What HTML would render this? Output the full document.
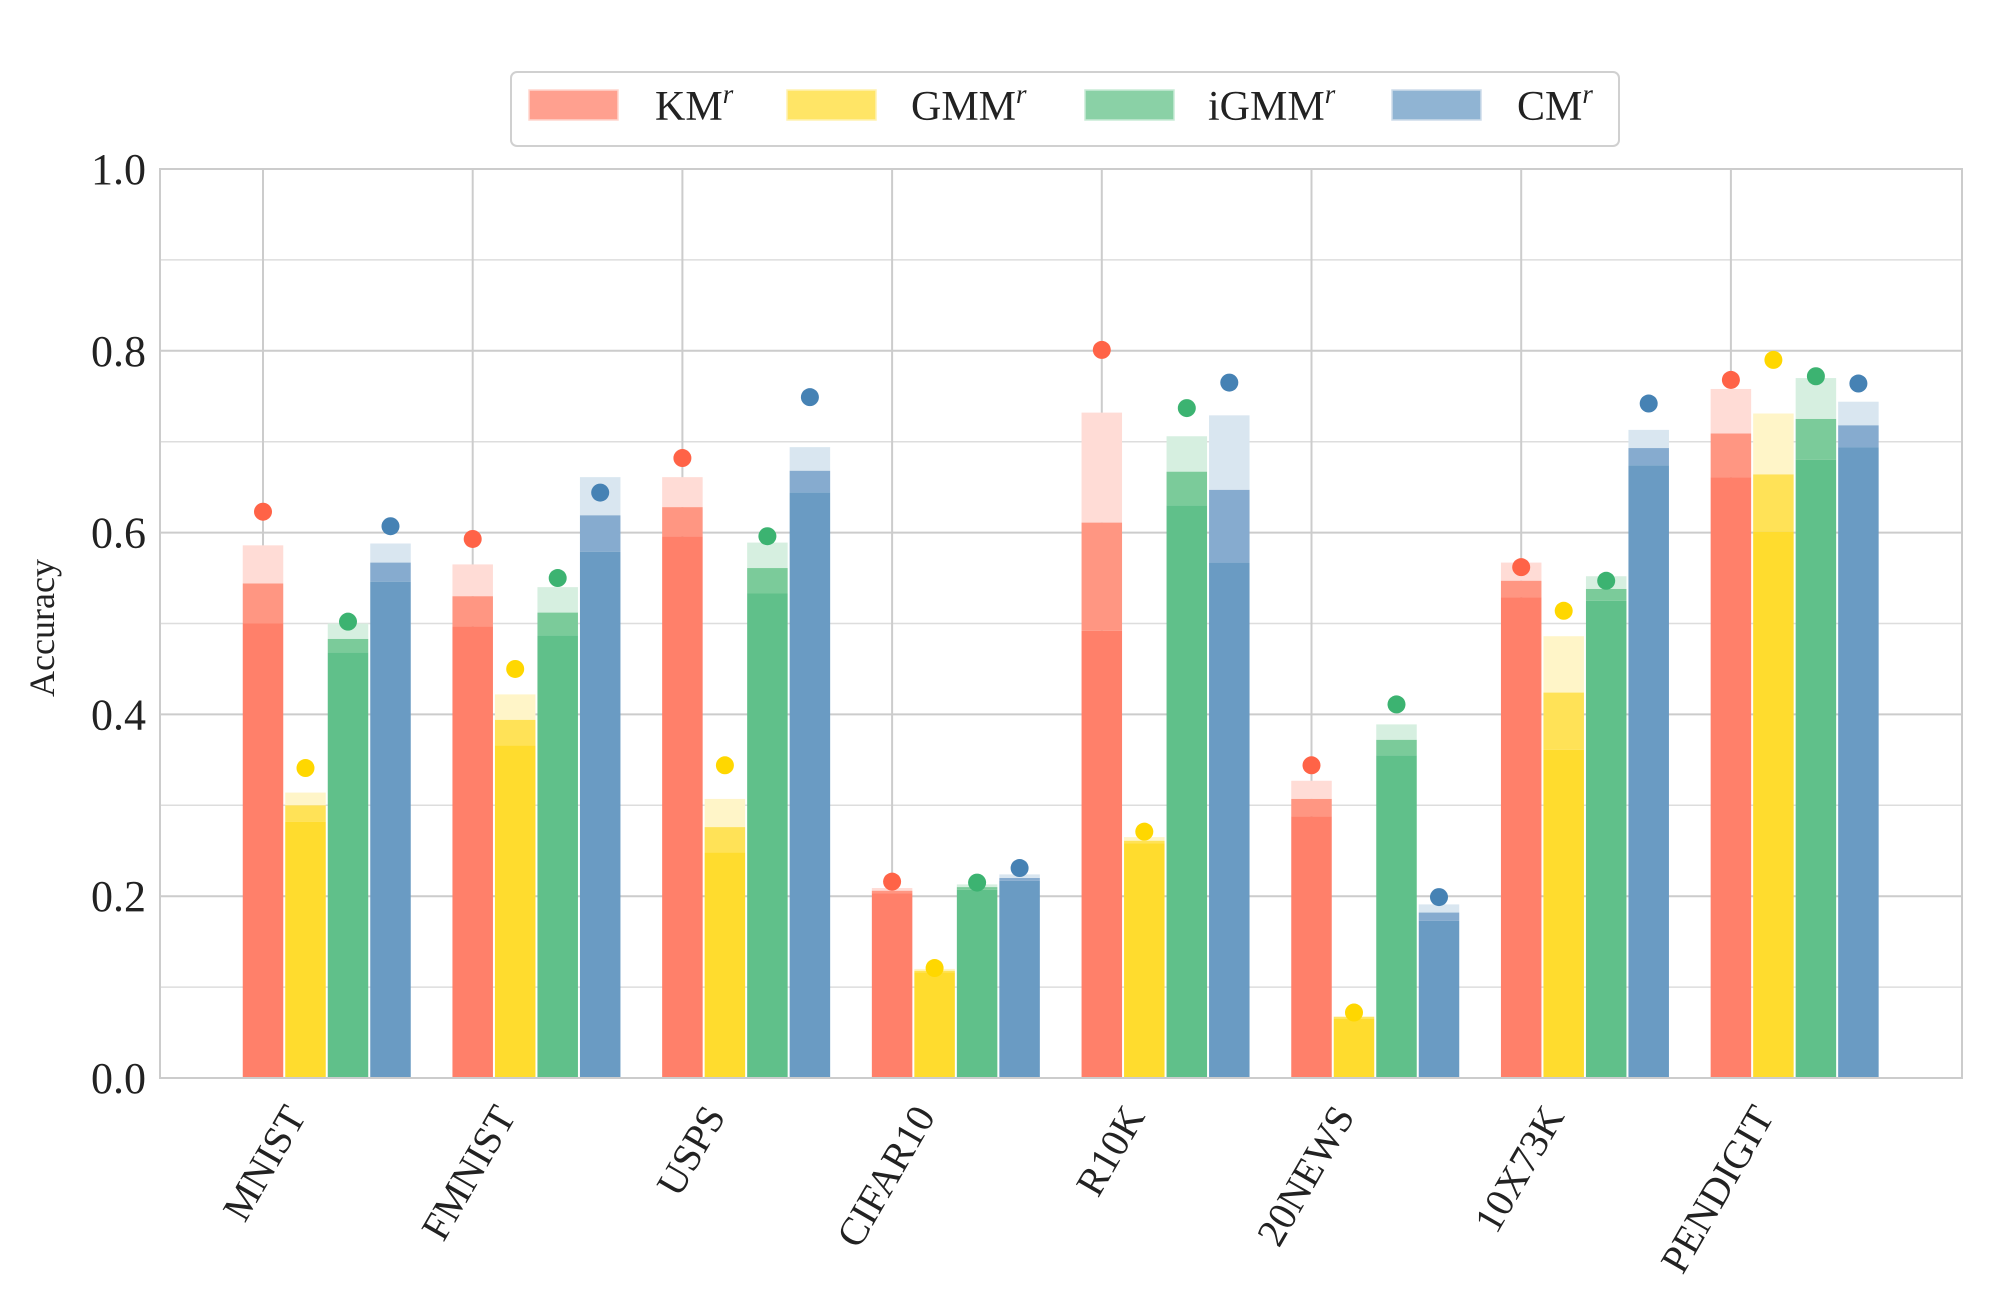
<!DOCTYPE html>
<html><head><meta charset="utf-8"><style>
html,body{margin:0;padding:0;background:#fff;}
svg{display:block;font-family:"Liberation Serif",serif;}
</style></head><body>
<svg id="chart" width="2000" height="1300" viewBox="0 0 2000 1300">
<g id="grid"></g>
<g id="bars"></g>
<g id="dots"></g>
<rect x="160" y="169" width="1802" height="909" fill="none" stroke="#cccccc" stroke-width="2"/>
<g id="yticks"></g>
<g id="xticks"></g>
<text x="0" y="0" transform="translate(54,628) rotate(-90)" text-anchor="middle" font-size="36" fill="#222">Accuracy</text>
<g>
<rect x="511" y="72" width="1108" height="74" rx="6" fill="#fff" stroke="#d0d0d0" stroke-width="2"/>
<g><rect x="529" y="90" width="89" height="30" fill="#ffa08f" stroke="#ffd5cd" stroke-width="1.5"/><text x="655" y="120" font-size="42" fill="#222">KM<tspan font-size="27" dy="-17" font-style="italic">r</tspan></text></g>
<g><rect x="787" y="90" width="89" height="30" fill="#ffe566" stroke="#fff2b0" stroke-width="1.5"/><text x="911" y="120" font-size="42" fill="#222">GMM<tspan font-size="27" dy="-17" font-style="italic">r</tspan></text></g>
<g><rect x="1085" y="90" width="89" height="30" fill="#8ad1a6" stroke="#c8ebd6" stroke-width="1.5"/><text x="1208" y="120" font-size="42" fill="#222">iGMM<tspan font-size="27" dy="-17" font-style="italic">r</tspan></text></g>
<g><rect x="1392" y="90" width="89" height="30" fill="#90b4d3" stroke="#cddcea" stroke-width="1.5"/><text x="1517" y="120" font-size="42" fill="#222">CM<tspan font-size="27" dy="-17" font-style="italic">r</tspan></text></g>
</g>
</svg>
<script>
const categories = ["MNIST","FMNIST","USPS","CIFAR10","R10K","20NEWS","10X73K","PENDIGIT"];
const seriesNames = ["KM","GMM","iGMM","CM"];
const kmHi  = [0.586,0.565,0.661,0.209,0.732,0.327,0.567,0.758];
const kmMid = [0.544,0.530,0.628,0.206,0.611,0.307,0.547,0.709];
const kmLo  = [0.500,0.497,0.596,0.203,0.492,0.288,0.529,0.661];
const kmDot = [0.623,0.593,0.682,0.216,0.801,0.344,0.562,0.768];
const gmmHi  = [0.314,0.422,0.307,0.120,0.265,0.068,0.486,0.731];
const gmmMid = [0.300,0.394,0.276,0.118,0.261,0.067,0.424,0.664];
const gmmLo  = [0.282,0.366,0.248,0.116,0.258,0.065,0.361,0.601];
const gmmDot = [0.341,0.450,0.344,0.121,0.271,0.072,0.514,0.790];
const igmmHi  = [0.500,0.540,0.589,0.213,0.706,0.389,0.552,0.770];
const igmmMid = [0.483,0.512,0.561,0.210,0.667,0.372,0.538,0.725];
const igmmLo  = [0.468,0.487,0.533,0.207,0.630,0.355,0.525,0.680];
const igmmDot = [0.502,0.550,0.596,0.215,0.737,0.411,0.547,0.772];
const cmHi  = [0.588,0.661,0.694,0.224,0.729,0.191,0.713,0.744];
const cmMid = [0.567,0.619,0.668,0.220,0.647,0.182,0.693,0.718];
const cmLo  = [0.546,0.579,0.644,0.217,0.567,0.173,0.674,0.694];
const cmDot = [0.607,0.644,0.749,0.231,0.765,0.199,0.742,0.764];
const yTicks = [0.0,0.2,0.4,0.6,0.8,1.0];
const yTickLabels = ["0.0","0.2","0.4","0.6","0.8","1.0"];

const NS="http://www.w3.org/2000/svg";
const X0=160,X1=1962,Y0=1078,Y1=169;
function yScale(v){return Y0-(Y0-Y1)*v;}
function xCenter(i){return 263+209.7*i;}
const BW=42.5;
const hi=[kmHi,gmmHi,igmmHi,cmHi], mid=[kmMid,gmmMid,igmmMid,cmMid], lo=[kmLo,gmmLo,igmmLo,cmLo], dot=[kmDot,gmmDot,igmmDot,cmDot];
const colLight=["#ffdcd6","#fff5c8","#d6efe0","#d9e6f0"];
const colMid=["#ff9682","#ffe257","#7bcb9a","#86abcf"];
const colSolid=["#ff806a","#ffdc2e","#60c08a","#6a9bc3"];
const colDot=["#ff6347","#ffd700","#3cb371","#4682b4"];
function mk(tag,attrs,parent){const e=document.createElementNS(NS,tag);for(const k in attrs)e.setAttribute(k,attrs[k]);parent.appendChild(e);return e;}

const grid=document.getElementById('grid');
for(let k=1;k<10;k++){const y=yScale(k/10);
 const l=mk('line',{x1:X0,x2:X1,y1:y,y2:y,stroke:(k%2==0)?'#cccccc':'#dddddd','stroke-width':k%2==0?2:1.5},grid);
 
 }
categories.forEach((c,i)=>{const x=xCenter(i);
 const l=mk('line',{x1:x,x2:x,y1:Y1,y2:Y0,stroke:'#cccccc','stroke-width':2},grid);
 
 });

const bars=document.getElementById('bars'), dots=document.getElementById('dots');
categories.forEach((c,i)=>{
 for(let s=0;s<4;s++){
  const x=xCenter(i)-BW/2+s*BW;
  const g=mk('g',{},bars);
  
  
  const yh=yScale(hi[s][i]), ym=yScale(mid[s][i]), yl=yScale(lo[s][i]);
  mk('rect',{x:x+1,y:yh,width:BW-2,height:ym-yh,fill:colLight[s]},g);
  mk('rect',{x:x+1,y:ym,width:BW-2,height:yl-ym,fill:colMid[s]},g);
  mk('rect',{x:x+1,y:yl,width:BW-2,height:Y0-yl,fill:colSolid[s]},g);
  const d=mk('circle',{cx:x+BW/2,cy:yScale(dot[s][i]),r:9,fill:colDot[s]},dots);
  
  
 }
});

const yt=document.getElementById('yticks');
yTicks.forEach((v,i)=>{const t=mk('text',{x:146,y:yScale(v)+15,'text-anchor':'end','font-size':44,fill:'#222'},yt);
 t.textContent=yTickLabels[i];
 
 });
const xt=document.getElementById('xticks');
categories.forEach((c,i)=>{const x=xCenter(i)+44,y=1116;
 const t=mk('text',{x:x,y:y,'text-anchor':'end','font-size':40,fill:'#222',transform:`rotate(-60 ${x} ${y})`},xt);
 t.textContent=c;
 
 });
</script>
</body></html>
